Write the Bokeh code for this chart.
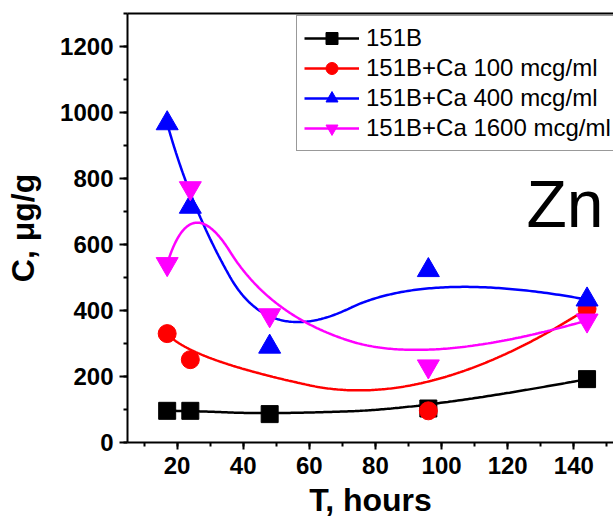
import numpy as np
from bokeh.plotting import figure
from bokeh.models import (Range1d, SingleIntervalTicker, FixedTicker, LinearAxis,
                          Legend, LegendItem, Label)
from bokeh.embed import file_html
from bokeh.resources import INLINE

# ---- data ----
t_hours = [17, 24, 48, 96, 144]
c_151b = [96, 96, 86, 103, 192]
t_ca100 = [17, 24, 96, 144]
c_ca100 = [330, 251, 96, 405]
c_ca400 = [967, 714, 290, 522, 433]
c_ca1600 = [541, 771, 386, 231, 370]

series_names = ["151B", "151B+Ca 100 mcg/ml", "151B+Ca 400 mcg/ml", "151B+Ca 1600 mcg/ml"]
series_colors = ["#000000", "#FF0000", "#0000FF", "#FF00FF"]
series_markers = ["square", "circle", "triangle", "inverted_triangle"]
series_sizes = [17, 18, 22, 22]

FONT = "Liberation Sans"


def bspline(xs, ys, k=2, n=300):
    """Clamped uniform B-spline with the data points as control points."""
    P = np.column_stack([np.asarray(xs, float), np.asarray(ys, float)])
    m = len(P)
    inner = np.linspace(0, 1, m - k + 1)
    knots = np.concatenate([[0.0] * k, inner, [1.0] * k])
    u = np.linspace(0, 1, n)
    u[-1] = 1 - 1e-12
    N = np.zeros((n, len(knots) - 1))
    for i in range(len(knots) - 1):
        N[:, i] = (u >= knots[i]) & (u < knots[i + 1])
    for d in range(1, k + 1):
        Nn = np.zeros((n, len(knots) - 1 - d))
        for i in range(len(knots) - 1 - d):
            a = knots[i + d] - knots[i]
            b = knots[i + d + 1] - knots[i + 1]
            term = np.zeros(n)
            if a > 0:
                term += (u - knots[i]) / a * N[:, i]
            if b > 0:
                term += (knots[i + d + 1] - u) / b * N[:, i + 1]
            Nn[:, i] = term
        N = Nn
    C = N @ P
    return C[:, 0], C[:, 1]


p = figure(width=613, height=522, output_backend="svg", toolbar_location=None,
           x_range=Range1d(5, 152), y_range=Range1d(0, 1300),
           min_border_left=127, min_border_right=0, min_border_top=13, min_border_bottom=80)
p.outline_line_color = None
p.xgrid.visible = False
p.ygrid.visible = False
p.background_fill_color = "white"
p.border_fill_color = "white"

p.xaxis.ticker = SingleIntervalTicker(interval=20, num_minor_ticks=2)
p.yaxis.ticker = SingleIntervalTicker(interval=200, num_minor_ticks=2)
for ax in (p.xaxis[0], p.yaxis[0]):
    ax.axis_line_width = 2
    ax.axis_line_color = "black"
    ax.major_tick_line_width = 2
    ax.minor_tick_line_width = 2
    ax.major_tick_line_color = "black"
    ax.minor_tick_line_color = "black"
    ax.major_tick_in = 0
    ax.minor_tick_in = 0
    ax.minor_tick_out = 4
    ax.major_label_text_font = FONT
    ax.major_label_text_font_style = "bold"
    ax.major_label_text_font_size = "24px"
    ax.major_label_text_color = "black"
    ax.axis_label_text_font = FONT
    ax.axis_label_text_font_style = "bold"
    ax.axis_label_text_font_size = "32px"
    ax.axis_label_text_color = "black"
p.yaxis.major_tick_out = 8
p.yaxis.major_label_standoff = 6
p.xaxis.major_tick_out = 7
p.xaxis.major_label_standoff = 7
p.xaxis.axis_label = "T, hours"
p.xaxis.axis_label_standoff = 5
p.yaxis.axis_label = "C, \u03bcg/g"
p.yaxis.axis_label_standoff = 16

# top frame line (no ticks, no labels)
top_axis = LinearAxis(ticker=FixedTicker(ticks=[]), axis_line_width=2, axis_line_color="black",
                      major_tick_line_color=None, minor_tick_line_color=None,
                      major_label_text_font_size="0px")
p.add_layout(top_axis, "above")

items = []
xs_list = [t_hours, t_ca100, t_hours, t_hours]
ys_list = [c_151b, c_ca100, c_ca400, c_ca1600]
for name, col, mk, sz, xs, ys in zip(series_names, series_colors, series_markers,
                                     series_sizes, xs_list, ys_list):
    cx, cy = bspline(xs, ys)
    lr = p.line(cx, cy, line_color=col, line_width=2.5)
    sr = p.scatter(xs, ys, marker=mk, size=sz, fill_color=col, line_color=col)
    items.append(LegendItem(label=name, renderers=[lr, sr]))

legend = Legend(items=items, location=(169, 291), glyph_width=55, glyph_height=30,
                spacing=0, padding=7, label_standoff=7, label_width=262,
                label_text_font=FONT, label_text_font_size="24px", label_text_color="black",
                border_line_color="#333333", border_line_width=1,
                background_fill_color="white", background_fill_alpha=1.0)
p.add_layout(legend)

p.add_layout(Label(x=125.7, y=722, text="Zn", text_font=FONT, text_font_size="66px",
                   text_align="left", text_baseline="alphabetic", text_color="black"))

open("out.html", "w").write(file_html(p, INLINE))
